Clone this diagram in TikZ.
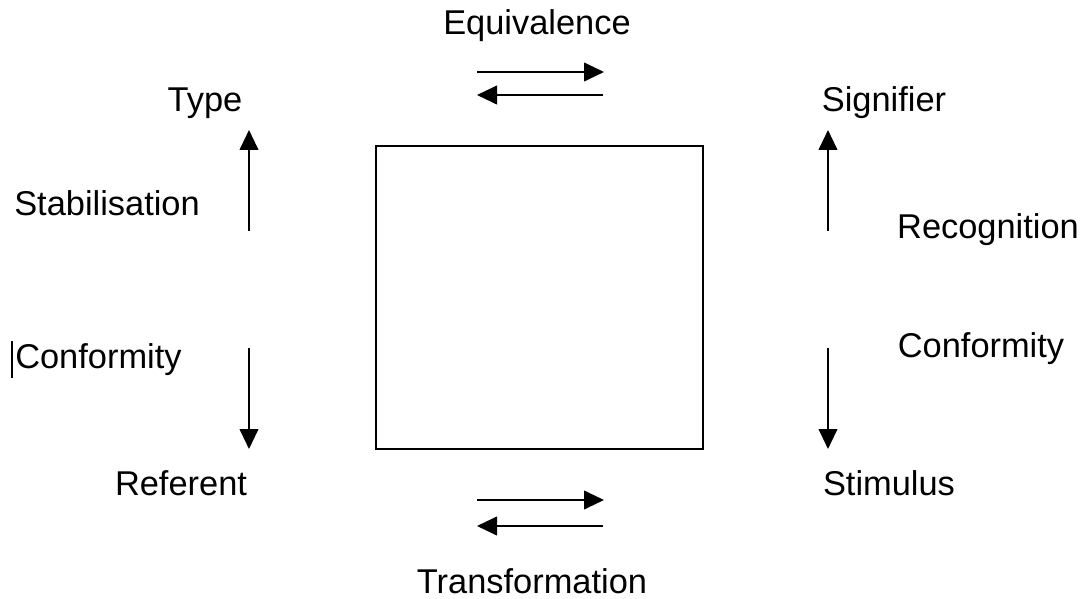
\documentclass[tikz,border=0pt]{standalone}
\usepackage{fontspec}
\setmainfont{Liberation Sans}
\usetikzlibrary{arrows.meta}
\tikzset{
    lbl/.style={font=\fontsize{25.8}{30}\selectfont, inner sep=0pt},
    arr/.style={line width=1.5pt, -{Triangle[length=15pt, width=14pt]}}
}
\begin{document}
\begin{tikzpicture}[x=0.75pt, y=-0.75pt]
    \useasboundingbox (0,0) rectangle (1083,599);

    %square
    \node[draw, line width=1.5pt, minimum width=327*0.75pt, minimum height=303*0.75pt, inner sep=0pt] (box) at (539.5,297.5) {};

    %labels
    \node[lbl] (equiv) at (537,26) {Equivalence};
    \node[lbl] (type) at (205,103) {Type};
    \node[lbl] (signifier) at (884,103) {Signifier};
    \node[lbl] (stab) at (107,203) {Stabilisation};
    \node[lbl] (recog) at (988,230) {Recognition};
    \node[lbl, anchor=west] (confl) at (15,360) {Conformity};
    \node[lbl] (confr) at (981,349) {Conformity};
    \node[lbl] (referent) at (181,483) {Referent};
    \node[lbl] (stimulus) at (889,483) {Stimulus};
    \node[lbl] (transf) at (532,581) {Transformation};

    %cursor
    \draw[line width=0.8pt] (12,341) coordinate (cura) -- (12,378) coordinate (curb);

    %arrow ends
    \coordinate (t1a) at (477,72);  \coordinate (t1b) at (604,72);
    \coordinate (t2a) at (603,95);  \coordinate (t2b) at (477,95);
    \coordinate (b1a) at (477,500); \coordinate (b1b) at (604,500);
    \coordinate (b2a) at (603,526); \coordinate (b2b) at (477,526);
    \coordinate (l1a) at (249,231); \coordinate (l1b) at (249,130);
    \coordinate (l2a) at (249,348); \coordinate (l2b) at (249,449);
    \coordinate (r1a) at (828,231); \coordinate (r1b) at (828,130);
    \coordinate (r2a) at (828,348); \coordinate (r2b) at (828,449);

    %arrows
    \draw[arr] (t1a) -- (t1b);
    \draw[arr] (t2a) -- (t2b);
    \draw[arr] (b1a) -- (b1b);
    \draw[arr] (b2a) -- (b2b);
    \draw[arr] (l1a) -- (l1b);
    \draw[arr] (l2a) -- (l2b);
    \draw[arr] (r1a) -- (r1b);
    \draw[arr] (r2a) -- (r2b);
\end{tikzpicture}
\end{document}
